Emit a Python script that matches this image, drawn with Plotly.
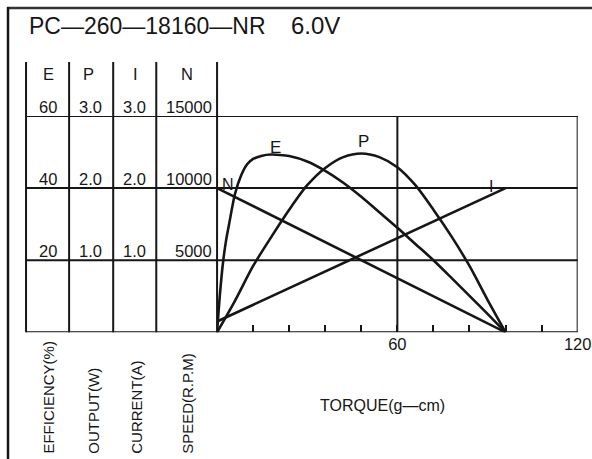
import plotly.graph_objects as go

# ---------------- data ----------------
torque_e = [0, 1, 2, 3, 4, 6, 8, 10, 12, 15, 18, 21, 24, 30, 36, 42, 48, 54, 60, 66, 72, 78, 84, 90, 96]
efficiency = [0, 11, 19.5, 25.5, 30, 38.5, 43.5, 46.6, 48.1, 49.0, 49.3, 49.2, 48.9, 47.4, 44.8, 41.5,
              37.6, 33.3, 29.0, 24.5, 20.0, 15.1, 10.1, 5.1, 0]

torque_p = [0, 6, 12, 18, 24, 30, 36, 42, 48, 54, 60, 66, 72, 78, 84, 90, 96]
output_w = [0, 0.44, 0.92, 1.32, 1.70, 2.04, 2.28, 2.43, 2.48, 2.43, 2.29, 2.04, 1.70, 1.33, 0.92, 0.45, 0]

torque_line = [0, 96]
current_a = [0.15, 2.0]
speed_rpm = [10000, 0]

x_tick_vals = [0, 12, 24, 36, 48, 60, 72, 84, 96, 108, 120]
x_tick_text = ["", "", "", "", "", "60", "", "", "", "", "120"]

col_headers = ["E", "P", "I", "N"]
row_levels = [60, 40, 20]  # efficiency scale rows
eff_labels = ["60", "40", "20"]
out_labels = ["3.0", "2.0", "1.0"]
cur_labels = ["3.0", "2.0", "1.0"]
spd_labels = ["15000", "10000", "5000"]
col_titles = ["EFFICIENCY(%)", "OUTPUT(W)", "CURRENT(A)", "SPEED(R.P.M)"]

# ---------------- layout helpers ----------------
IMG_W, IMG_H = 592, 459          # target picture size
W, H = 607, 459                  # figure size (viewport is captured slightly wider)
def px(x):
    return x / IMG_W
def py(y):
    return 1 - y / IMG_H

INK = "#161616"
FONT = "Liberation Sans, Arial, sans-serif"
LW = 2.6

fig = go.Figure()
fig.add_trace(go.Scatter(x=torque_e, y=efficiency, mode="lines", yaxis="y",
                         line=dict(color=INK, width=LW, shape="spline", smoothing=0.8)))
fig.add_trace(go.Scatter(x=torque_p, y=output_w, mode="lines", yaxis="y2",
                         line=dict(color=INK, width=LW, shape="spline", smoothing=0.8)))
fig.add_trace(go.Scatter(x=torque_line, y=current_a, mode="lines", yaxis="y2",
                         line=dict(color=INK, width=LW)))
fig.add_trace(go.Scatter(x=torque_line, y=speed_rpm, mode="lines", yaxis="y3",
                         line=dict(color=INK, width=LW)))

x_dom = [px(216.7), px(576.7)]
y_dom = [py(332.3), py(116)]

shapes = []
GL = dict(color=INK, width=2)
# horizontal grid rows spanning the table and plot
for lv in row_levels + [0]:
    shapes.append(dict(type="line", xref="paper", yref="y", x0=px(26), x1=px(576.7), y0=lv, y1=lv, line=GL))
# table column separators
for xc in [26, 69, 113, 156, 216.7]:
    shapes.append(dict(type="line", xref="paper", yref="paper", x0=px(xc), x1=px(xc), y0=py(62), y1=py(332.3), line=GL))
# vertical line at 60 and right border
for xv in [60, 120]:
    shapes.append(dict(type="line", xref="x", yref="y", x0=xv, x1=xv, y0=0, y1=60, line=GL))
# outer frame
shapes.append(dict(type="line", xref="paper", yref="paper", x0=px(7), x1=1, y0=py(8), y1=py(8), line=dict(color="#333", width=2.5)))
shapes.append(dict(type="line", xref="paper", yref="paper", x0=px(8), x1=px(8), y0=py(7), y1=0, line=dict(color=INK, width=2.5)))

ann = []
def add_text(text, x, y, size, xanchor="center", yanchor="middle", xref="paper", yref="paper", angle=0, yshift=0):
    ann.append(dict(text=text, x=x, y=y, xref=xref, yref=yref, showarrow=False,
                    xanchor=xanchor, yanchor=yanchor, textangle=angle, yshift=yshift,
                    font=dict(family=FONT, size=size, color=INK)))

# title
add_text("PC\u2014260\u201418160\u2014NR", px(27), py(26), 23, xanchor="left")
add_text("6.0V", px(289), py(26), 24, xanchor="left")

# column headers
for h, xc in zip(col_headers, [48, 88, 135, 187]):
    add_text(h, px(xc), py(74), 16.5)

# row labels
for lv, e, o, c, s in zip(row_levels, eff_labels, out_labels, cur_labels, spd_labels):
    for t, xc in [(e, 48), (o, 90.5), (c, 134.5)]:
        add_text(t, px(xc), lv, 16.5, yanchor="bottom", yref="y", yshift=-2)
    add_text(s, px(214), lv, 16.5, xanchor="right", yanchor="bottom", yref="y", yshift=-2)

# rotated column titles
for t, xc in zip(col_titles, [48, 92.5, 136, 187]):
    add_text(t, px(xc), py(456), 15, xanchor="center", yanchor="bottom", angle=-90)

# x axis title
add_text("TORQUE(g\u2014cm)", px(382), py(405), 16)

# curve labels
add_text("E", px(275), py(147), 17)
add_text("P", px(363), py(141), 17)
add_text("N", px(228), py(184), 16)
add_text("I", px(490), py(186), 16)

fig.update_layout(
    width=W, height=H, autosize=False,
    margin=dict(l=0, r=0, t=0, b=0),
    paper_bgcolor="white", plot_bgcolor="white",
    showlegend=False,
    xaxis=dict(domain=x_dom, range=[0, 120], showgrid=False, zeroline=False, showline=False,
               ticks="inside", ticklen=7, tickwidth=2, tickcolor=INK,
               tickvals=x_tick_vals, ticktext=x_tick_text,
               tickfont=dict(family=FONT, size=16.5, color=INK)),
    yaxis=dict(domain=y_dom, range=[0, 60], visible=False),
    yaxis2=dict(range=[0, 3], overlaying="y", visible=False),
    yaxis3=dict(range=[0, 15000], overlaying="y", visible=False),
    shapes=shapes,
    annotations=ann,
)

fig.write_html(
    "out.html",
    config={"responsive": False, "staticPlot": True, "displayModeBar": False},
    post_script="document.body.style.margin='0';document.body.style.overflow='hidden';",
)
